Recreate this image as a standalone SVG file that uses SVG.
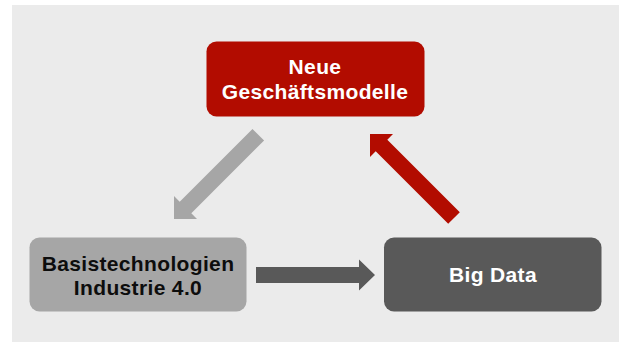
<svg xmlns="http://www.w3.org/2000/svg" width="619" height="342" viewBox="0 0 619 342">
<style>
.t{font-family:"Liberation Sans",Arial,sans-serif;font-weight:bold;font-size:21px;text-anchor:middle;letter-spacing:0.35px}
.w{fill:#FFFFFF}
.k{fill:#0D0D0D}
</style>
<rect x="0" y="0" width="619" height="342" fill="#FFFFFF"/>
<rect x="12" y="5" width="607" height="337" fill="#EBEBEB"/>
<g id="connectors">
<polygon id="arrow-top-to-left" points="252.5,128.9 264.1,140.5 191.3,213.3 197,219 174,219 174,196 179.7,201.7" fill="#A6A6A6"/>
<polygon id="arrow-left-to-right" points="256,267 359,267 359,259.5 375,275 359,290.5 359,283 256,283" fill="#595959"/>
<polygon id="arrow-right-to-top" points="370,134 393,134 387.3,139.7 459.8,212.2 448.2,223.8 375.7,151.3 370,157" fill="#B20C00"/>
</g>
<g id="node-geschaeftsmodelle">
<rect x="206.5" y="41.5" width="218" height="75" rx="10" fill="#B20C00"/>
<text class="t w" x="315" y="73.5">Neue</text>
<text class="t w" x="315" y="98.5">Geschäftsmodelle</text>
</g>
<g id="node-basistechnologien">
<rect x="29.5" y="237.5" width="217" height="74" rx="10" fill="#A6A6A6"/>
<text class="t k" x="138" y="270.5">Basistechnologien</text>
<text class="t k" x="138" y="294.5">Industrie 4.0</text>
</g>
<g id="node-bigdata">
<rect x="384" y="237.5" width="217.5" height="74" rx="10" fill="#595959"/>
<text class="t w" x="493" y="282">Big Data</text>
</g>
</svg>
